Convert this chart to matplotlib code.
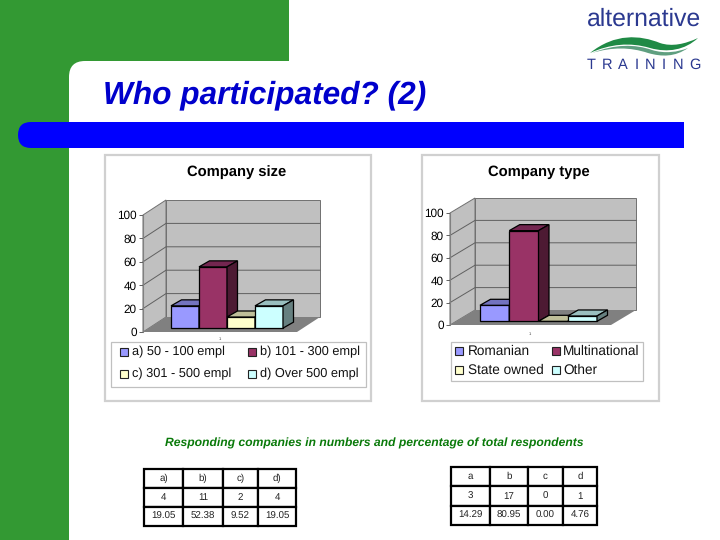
# -*- coding: utf-8 -*-
import matplotlib
matplotlib.use('Agg')
import matplotlib.pyplot as plt
from matplotlib.patches import Rectangle, Polygon, FancyBboxPatch, PathPatch
from matplotlib.path import Path

plt.rcParams['font.family'] = ['Liberation Sans', 'DejaVu Sans']
plt.rcParams['text.hinting'] = 'no_hinting'

# chart values
size_labels = ['a) 50 - 100 empl', 'b) 101 - 300 empl', 'c) 301 - 500 empl', 'd) Over 500 empl']
size_pct = [19.05, 52.38, 9.52, 19.05]
type_labels = ['Romanian', 'Multinational', 'State owned', 'Other']
type_pct = [14.29, 80.95, 0.00, 4.76]
y_ticks = [0, 20, 40, 60, 80, 100]

# table contents
size_head = ['a)', 'b)', 'c)', 'd)']
size_count = ['4', '11', '2', '4']
size_share = ['19.05', '52.38', '9.52', '19.05']
type_head = ['a', 'b', 'c', 'd']
type_count = ['3', '17', '0', '1']
type_share = ['14.29', '80.95', '0.00', '4.76']

front = ['#9999ff', '#993366', '#ffffcc', '#ccffff']
top = ['#7373bf', '#732650', '#bfbf99', '#99bfbf']
side = ['#4d4d80', '#4d1a33', '#808066', '#668080']

GREEN = '#339933'
BLUE = '#0000ff'

fig = plt.figure(figsize=(7.2, 5.4), dpi=100)
bg = fig.add_axes([0, 0, 1, 1])
bg.set_xlim(0, 720)
bg.set_ylim(540, 0)
bg.axis('off')

# slide background
bg.add_patch(Rectangle((0, 0), 69, 540, color=GREEN, lw=0))
bg.add_patch(Rectangle((0, 0), 289, 90, color=GREEN, lw=0))
bg.add_patch(FancyBboxPatch((85, 77), 800, 600, boxstyle='round,pad=16,rounding_size=16',
                            fc='white', ec='none', zorder=1))
bg.add_patch(Rectangle((40, 122), 644, 26, color=BLUE, lw=0, zorder=2))
bg.add_patch(FancyBboxPatch((18, 122), 60, 26, boxstyle='round,pad=0,rounding_size=13',
                            fc=BLUE, ec='none', zorder=2))

bg.text(103, 95, 'Who participated? (2)', color='#0000cc', fontsize=22.8,
        fontweight='bold', fontstyle='italic', va='center', zorder=3)

# logo
bg.text(587, 19, 'alternative', color='#2b3990', fontsize=17.8, va='center', zorder=3)
logo_letters = 'TRAINING'
logo_x = [591, 607, 623, 637, 650, 664, 678, 695]
for ch, lx in zip(logo_letters, logo_x):
    bg.text(lx, 65, ch, color='#2b3990', fontsize=10.5, va='center', ha='center', zorder=3)
swoosh = Path([(590, 53), (615, 33), (640, 35), (660, 43), (672, 47), (685, 44), (698, 38),
               (685, 50), (668, 53), (650, 48), (630, 42), (610, 44), (590, 53)],
              [1, 4, 4, 4, 4, 4, 4, 4, 4, 4, 4, 4, 4])
bg.add_patch(PathPatch(swoosh, fc='#1f8a45', ec='none', zorder=3))
under = Path([(592, 53), (615, 44), (635, 44), (652, 50), (665, 54), (678, 52), (688, 48),
              (675, 57), (662, 57), (648, 53), (630, 47), (612, 47), (592, 53)],
             [1, 4, 4, 4, 4, 4, 4, 4, 4, 4, 4, 4, 4])
bg.add_patch(PathPatch(under, fc='#5f9f80', ec='none', zorder=3))

bg.text(374, 443, 'Responding companies in numbers and percentage of total respondents',
        color='#0a7a0a', fontsize=8.7, fontweight='bold', fontstyle='italic',
        ha='center', va='center', zorder=3)


def bar_chart(title, title_x, labels, values, panel, plane, bar_w, wall, legend_box, swatch_x, text_x, rows_y, leg_fs):
    # panel behind the chart
    x0, y0, x1, y1 = panel
    bg.add_patch(Rectangle((x0, y0), x1 - x0, y1 - y0, fc='white', ec='#d0d0d0', lw=1.6, zorder=3))
    bg.text(title_x, 172, title, fontsize=10.6, fontweight='bold', ha='center', va='center', zorder=4)

    # front plane of the 3d box, one x unit is one bar wide
    left, bottom, right, upper, first = plane
    ax = fig.add_axes([left / 720, 1 - bottom / 540, (right - left) / 720, (bottom - upper) / 540])
    ax.set_xlim(-0.5 - (first - left) / bar_w, -0.5 + (right - first) / bar_w)
    ax.set_ylim(0, 100)
    ax.patch.set_visible(False)
    for s in ['top', 'right', 'bottom']:
        ax.spines[s].set_visible(False)
    ax.spines['left'].set_color('#808080')
    ax.spines['left'].set_linewidth(0.8)
    ax.set_xticks([])
    ax.set_yticks(y_ticks)
    ax.tick_params(axis='y', length=3, width=0.7, color='#606060', labelsize=8.5, pad=1.5)

    xl, xr = ax.get_xlim()
    dx, dy = wall[0] / bar_w, wall[1] * 100 / (bottom - upper)
    # walls and floor
    ax.add_patch(Polygon([(xl + dx, dy), (xr + dx, dy), (xr + dx, 100 + dy), (xl + dx, 100 + dy)],
                         fc='#c0c0c0', ec='#707070', lw=0.7, clip_on=False, zorder=1))
    ax.add_patch(Polygon([(xl, 0), (xl + dx, dy), (xl + dx, 100 + dy), (xl, 100)],
                         fc='#c0c0c0', ec='#707070', lw=0.7, clip_on=False, zorder=1))
    ax.add_patch(Polygon([(xl, 0), (xr, 0), (xr + dx, dy), (xl + dx, dy)],
                         fc='#808080', ec='none', clip_on=False, zorder=1))
    for v in y_ticks[1:-1]:
        ax.plot([xl, xl + dx, xr + dx], [v, v + dy, v + dy], color='#606060', lw=0.7,
                clip_on=False, zorder=2)

    # bars, the front faces start a little behind the front edge of the floor
    base = 3.3
    bdx, bdy = 10.5 / bar_w, 6 * 100 / (bottom - upper)
    for i, v in enumerate(values):
        z = 3 + i
        ax.bar(i, v, width=1, bottom=base, color=front[i], edgecolor='black', lw=0.9,
               zorder=z, clip_on=False)
        l, r, t = i - 0.5, i + 0.5, base + v
        ax.add_patch(Polygon([(l, t), (r, t), (r + bdx, t + bdy), (l + bdx, t + bdy)], fc=top[i],
                             ec='black', lw=0.9, clip_on=False, zorder=z))
        ax.add_patch(Polygon([(r, base), (r + bdx, base + bdy), (r + bdx, t + bdy), (r, t)], fc=side[i],
                             ec='black', lw=0.9, clip_on=False, zorder=z))

    # legend box, drawn by hand because the columns are not evenly spaced
    lx0, ly0, lx1, ly1 = legend_box
    bg.add_patch(Rectangle((lx0, ly0), lx1 - lx0, ly1 - ly0, fc='white', ec='#c0c0c0', lw=0.9, zorder=4))
    for i, name in enumerate(labels):
        col, row = i % 2, i // 2
        bg.add_patch(Rectangle((swatch_x[col], rows_y[row] - 4), 8, 8, fc=front[i], ec='#222222', lw=0.8, zorder=5))
        bg.text(text_x[col], rows_y[row], name, fontsize=leg_fs, va='center', color='#111111', zorder=5)
    return ax


bar_chart('Company size', 237, size_labels, size_pct, (105, 155, 371, 401),
          (143, 332, 297, 215, 171), 28, (23, 15), (111, 342, 366, 387),
          [120, 248], [132, 260], [352, 374], 9.2)
bar_chart('Company type', 539, type_labels, type_pct, (422, 155, 659, 401),
          (450, 325, 611, 213, 480), 29.25, (25, 15), (451, 342, 643, 381),
          [455, 552], [468, 563], [351, 370], 9.8)

# stray category marks just under the floor
bg.text(220, 339, '1', fontsize=3, ha='center', va='center', color='#404040', zorder=4)
bg.text(530, 334, '1', fontsize=3, ha='center', va='center', color='#404040', zorder=4)


def data_table(rows, x_edges, y_edges):
    widths = [(b - a) / (x_edges[-1] - x_edges[0]) for a, b in zip(x_edges, x_edges[1:])]
    box = [x_edges[0] / 720, 1 - y_edges[-1] / 540, (x_edges[-1] - x_edges[0]) / 720,
           (y_edges[-1] - y_edges[0]) / 540]
    tab = bg.table(cellText=rows, colWidths=widths, cellLoc='center', bbox=box, zorder=5)
    tab.auto_set_font_size(False)
    tab.set_fontsize(7)
    for cell in tab.get_celld().values():
        cell.set_linewidth(1.6)
        cell.set_edgecolor('black')
        cell.get_text().set_color('#222222')


data_table([size_head, size_count, size_share], [144, 183, 223, 258, 296], [469, 488, 507, 526])
data_table([type_head, type_count, type_share], [451, 490, 528, 563, 597], [467, 487, 506, 525])

fig.savefig('out.png', dpi=100)
